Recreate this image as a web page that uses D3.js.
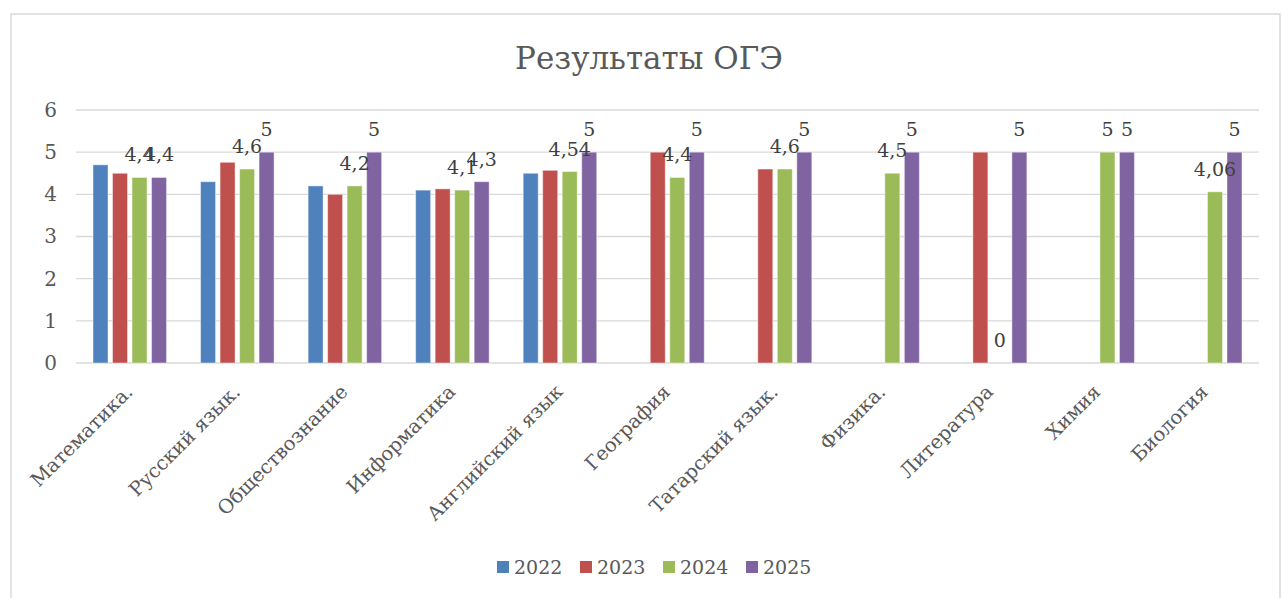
<!DOCTYPE html>
<html lang="ru">
<head>
<meta charset="utf-8">
<title>Результаты ОГЭ</title>
<style>
  body { margin: 0; background: #fff; }
</style>
</head>
<body>
<div id="chart"></div>
<script src="https://cdn.jsdelivr.net/npm/d3@7"></script>
<script>
var subjects = ["Математика.", "Русский язык.", "Обществознание", "Информатика", "Английский язык",
                "География", "Татарский язык.", "Физика.", "Литература", "Химия", "Биология"];
var years = ["2022", "2023", "2024", "2025"];
var v2022 = [4.7, 4.3, 4.2, 4.1, 4.5, null, null, null, null, null, null];
var v2023 = [4.5, 4.76, 4.0, 4.13, 4.57, 5, 4.6, null, 5, null, null];
var v2024 = [4.4, 4.6, 4.2, 4.1, 4.54, 4.4, 4.6, 4.5, 0, 5, 4.06];
var v2025 = [4.4, 5, 5, 4.3, 5, 5, 5, 5, 5, 5, 5];
var yTicks = [0, 1, 2, 3, 4, 5, 6];
var labeledYears = ["2024", "2025"];

var colors = ["#4F81BD", "#C0504D", "#9BBB59", "#8064A2"];
var seriesValues = [v2022, v2023, v2024, v2025];

var width = 1282, height = 598;
var serif = "'DejaVu Serif', serif";

// flat table for the bars
var rows = [];
subjects.forEach(function(s, i) {
  years.forEach(function(y, j) {
    if (seriesValues[j][i] !== null) rows.push({subject: s, year: y, value: seriesValues[j][i]});
  });
});

var svg = d3.select("#chart").append("svg")
    .attr("width", width)
    .attr("height", height)
    .attr("font-family", serif);

// chart border
svg.append("rect")
    .attr("x", 11).attr("y", 14)
    .attr("width", 1269).attr("height", 600)
    .attr("fill", "#fff")
    .attr("stroke", "#d9d9d9")
    .attr("stroke-width", 1.5);

var x0 = d3.scaleBand().domain(subjects).range([76, 1259]);
var x1 = d3.scaleBand().domain(years).range([0, x0.bandwidth()])
    .paddingInner(0.231).paddingOuter(0.872);
var y = d3.scaleLinear().domain([0, 6]).range([363, 110]);
var color = d3.scaleOrdinal().domain(years).range(colors);

function fmt(v) { return String(v).replace(".", ","); }

// title
svg.append("text")
    .attr("x", 649).attr("y", 69)
    .attr("text-anchor", "middle")
    .attr("font-size", 31)
    .attr("fill", "#595959")
    .text("Результаты ОГЭ");

// gridlines
svg.append("g").selectAll("line")
    .data(yTicks)
  .enter().append("line")
    .attr("x1", 76).attr("x2", 1259)
    .attr("y1", function(d) { return y(d); })
    .attr("y2", function(d) { return y(d); })
    .attr("stroke", "#d9d9d9")
    .attr("stroke-width", 1.3);

// y axis labels
var yAxis = svg.append("g")
    .attr("transform", "translate(64,0)")
    .call(d3.axisLeft(y).tickValues(yTicks).tickFormat(d3.format("d")).tickSize(0).tickPadding(7));
yAxis.attr("font-family", serif);
yAxis.select(".domain").remove();
yAxis.selectAll("text")
    .attr("font-size", 20)
    .attr("fill", "#595959");

// bars
svg.append("g").selectAll("rect")
    .data(rows)
  .enter().append("rect")
    .attr("x", function(d) { return x0(d.subject) + x1(d.year); })
    .attr("y", function(d) { return y(d.value); })
    .attr("width", x1.bandwidth())
    .attr("height", function(d) { return y(0) - y(d.value); })
    .attr("fill", function(d) { return color(d.year); })
    .attr("stroke", "#fff")
    .attr("stroke-opacity", 0.45)
    .attr("stroke-width", 1);

// data labels (only 2024 and 2025)
svg.append("g").selectAll("text")
    .data(rows.filter(function(d) { return labeledYears.indexOf(d.year) >= 0; }))
  .enter().append("text")
    .attr("x", function(d) { return x0(d.subject) + x1(d.year) + x1.bandwidth() / 2; })
    .attr("y", function(d) { return y(d.value) - 16; })
    .attr("text-anchor", "middle")
    .attr("font-size", 19)
    .attr("fill", "#404040")
    .text(function(d) { return fmt(d.value); });

// x axis labels, rotated
svg.append("g").selectAll("text")
    .data(subjects)
  .enter().append("text")
    .attr("transform", function(d) {
      return "translate(" + (x0(d) + x0.bandwidth() / 2 + 4) + ",393) rotate(-45)";
    })
    .attr("text-anchor", "end")
    .attr("font-size", 19.5)
    .attr("fill", "#595959")
    .text(function(d) { return d; });

// legend
var lx = d3.scaleBand().domain(years).range([497, 829]);
var legend = svg.append("g").selectAll("g")
    .data(years)
  .enter().append("g")
    .attr("transform", function(d) { return "translate(" + lx(d) + ",561)"; });
legend.append("rect")
    .attr("width", 12).attr("height", 12)
    .attr("fill", function(d) { return color(d); });
legend.append("text")
    .attr("x", 17).attr("y", 13)
    .attr("font-size", 19)
    .attr("fill", "#595959")
    .text(function(d) { return d; });
</script>
</body>
</html>
